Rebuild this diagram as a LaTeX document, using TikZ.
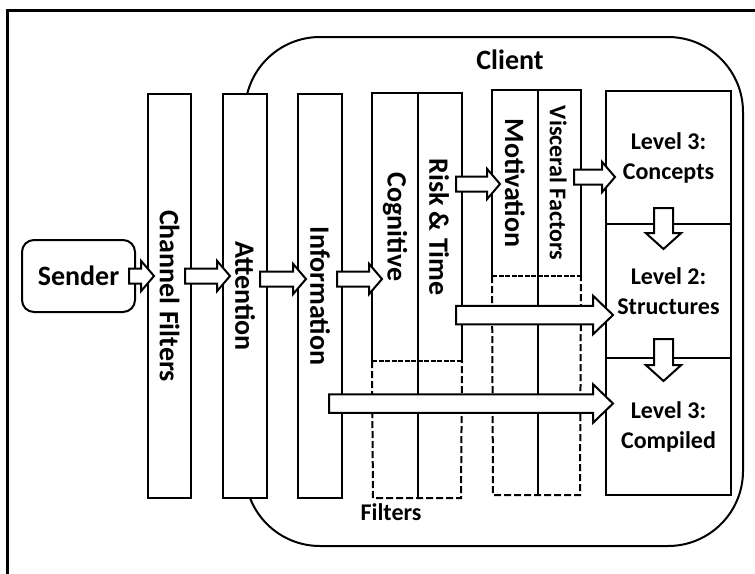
\documentclass[tikz,border=0pt]{standalone}
\usepackage{fontspec}
\setmainfont{Carlito}
\usetikzlibrary{shapes.arrows}
\begin{document}
\begin{tikzpicture}[x=1pt,y=-1pt,line width=2pt,
  big/.style={font=\bfseries\fontsize{28}{30}\selectfont},
  small/.style={font=\bfseries\fontsize{24}{30}\selectfont},
  box/.style={draw,fill=white,rectangle,inner sep=0pt},
  vtext/.style={big,rotate=-90,inner sep=0pt},
  arr/.style={single arrow,draw,fill=white,inner sep=0pt,line join=miter},
  sarr/.style={arr,inner ysep=6.5pt,single arrow head extend=7.5pt,single arrow tip angle=99},
  larr/.style={arr,inner ysep=8.25pt,single arrow head extend=10pt,single arrow tip angle=88},
  darr/.style={arr,rotate=-90,inner ysep=8.5pt,single arrow head extend=8pt,single arrow tip angle=96},
  dashedline/.style={dash pattern=on 7pt off 3pt},
  sepline/.style={dash pattern=on 5pt off 1.5pt}]
\useasboundingbox (0,0) rectangle (755,573);
\fill[white] (0,0) rectangle (755,573);
% outer frame
\draw[line width=3pt] (7,590) -- (7,10) -- (770,10);
% client
\node[draw,rounded corners=75pt,minimum width=498pt,minimum height=509pt,inner sep=0pt] (client) at (494,291.5) {};
\node[big,anchor=base] (clientlbl) at (510,69) {Client};
% sender
\node[box,rounded corners=12pt,minimum width=113pt,minimum height=72pt,big] (sender) at (78.5,276) {Sender};
% filter columns
\node[box,minimum width=43pt,minimum height=404pt] (chan) at (169.5,296) {};
\node[vtext] at (chan.center) {Channel Filters};
\node[box,minimum width=44pt,minimum height=404pt] (att) at (245,296) {};
\node[vtext] at (att.center) {Attention};
\node[box,minimum width=44pt,minimum height=404pt] (info) at (320,296) {};
\node[vtext] at (info.center) {Information};
% cognitive / risk
\node[minimum width=44pt,minimum height=266pt,inner sep=0pt] (cog) at (395,227) {};
\node[minimum width=44pt,minimum height=266pt,inner sep=0pt] (risk) at (439,227) {};
\coordinate (cogbot) at (373,498);
\coordinate (riskbot) at (461,498);
\draw[dashedline] (cog.south west) -- (cogbot) -- (riskbot) -- (risk.south east);
\draw[sepline] (cog.south west) -- (risk.south east);
\draw (cog.south west) -- (cog.north west) -- (risk.north east) -- (risk.south east);
\draw (cog.north east) -- (cog.north east |- cogbot);
\node[vtext] at (cog.center) {Cognitive};
\node[vtext] at (risk.center) {Risk \& Time};
% motivation / visceral
\node[minimum width=43.5pt,minimum height=184pt,inner sep=0pt] (mot) at (514.75,183) {};
\node[minimum width=43.5pt,minimum height=184pt,inner sep=0pt] (visc) at (558.25,183) {};
\coordinate (motbot) at (493,495);
\coordinate (viscbot) at (580,495);
\draw[dashedline] (mot.south west) -- (motbot) -- (viscbot) -- (visc.south east);
\draw[sepline] (mot.south west) -- (visc.south east);
\draw (mot.south west) -- (mot.north west) -- (visc.north east) -- (visc.south east);
\draw (mot.north east) -- (mot.north east |- motbot);
\node[vtext] at (mot.center) {Motivation};
\node[vtext,small] at (visc.center) {Visceral Factors};
\node[small,anchor=base] (filters) at (391,520) {Filters};
% levels
\node[box,minimum width=125pt,minimum height=133pt,small,align=center] (l3) at (668.5,157.5) {Level 3:\\Concepts};
\node[box,minimum width=125pt,minimum height=134pt,small,align=center] (l2) at (668.5,291) {Level 2:\\Structures};
\node[box,minimum width=125pt,minimum height=137pt,small,align=center] (l1) at (668.5,426.5) {Level 3:\\Compiled};
% arrows
\node[sarr,anchor=tail,minimum height=25pt] (a1) at (128,276) {};
\node[sarr,anchor=tail,minimum height=45pt] (a2) at (184,276) {};
\node[sarr,anchor=tail,minimum height=46pt] (a3) at (259,279) {};
\node[sarr,anchor=tail,minimum height=45pt] (a4) at (336,279) {};
\node[sarr,anchor=tail,minimum height=44pt] (a5) at (455,184) {};
\node[sarr,anchor=tail,minimum height=41pt] (a6) at (573,177) {};
\node[larr,anchor=tail,minimum height=157pt] (a7) at (455,315) {};
\node[larr,anchor=tail,minimum height=284pt] (a8) at (328,403.5) {};
\node[darr,anchor=tail,minimum height=41pt] (d1) at (663.5,207) {};
\node[darr,anchor=tail,minimum height=42pt] (d2) at (663.5,338) {};
\end{tikzpicture}
\end{document}
